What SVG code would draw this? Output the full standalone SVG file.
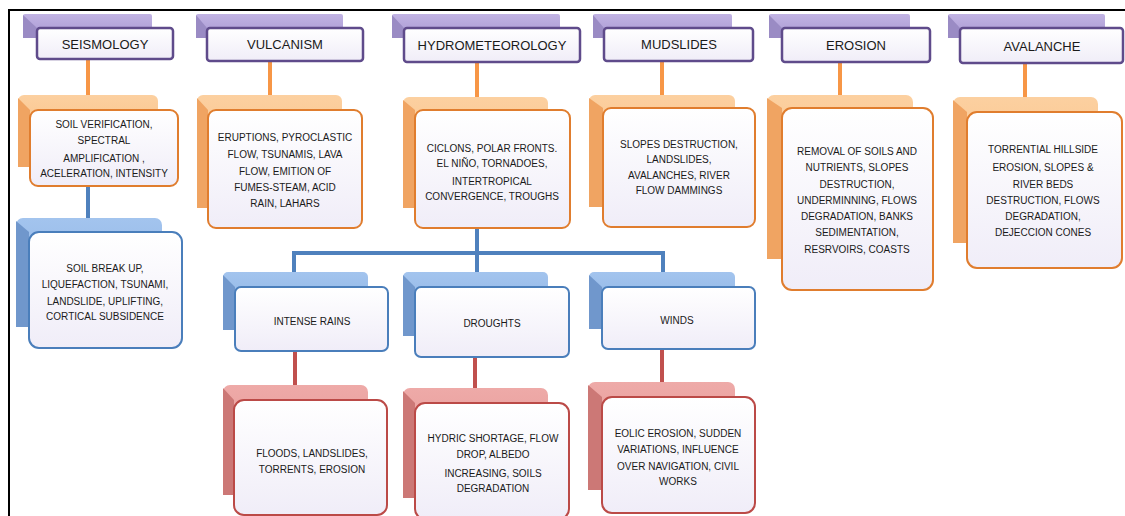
<svg xmlns="http://www.w3.org/2000/svg" width="1125" height="516" viewBox="0 0 1125 516">
<defs>
<linearGradient id="gFront" x1="0" y1="0" x2="0" y2="1"><stop offset="0" stop-color="#ffffff"/><stop offset="1" stop-color="#f0edf8"/></linearGradient>
<linearGradient id="gPur" x1="0" y1="0" x2="0" y2="1"><stop offset="0" stop-color="#c1b3e3"/><stop offset="1" stop-color="#a898d2"/></linearGradient>
<linearGradient id="gOra" x1="0" y1="0" x2="0" y2="1"><stop offset="0" stop-color="#fcd0a0"/><stop offset="1" stop-color="#f8b878"/></linearGradient>
<linearGradient id="gBlu" x1="0" y1="0" x2="0" y2="1"><stop offset="0" stop-color="#a3c4ee"/><stop offset="1" stop-color="#86aee0"/></linearGradient>
<linearGradient id="gRed" x1="0" y1="0" x2="0" y2="1"><stop offset="0" stop-color="#eeaaa8"/><stop offset="1" stop-color="#e08e8c"/></linearGradient>
</defs>
<style>
.frame{stroke:#000;stroke-width:2;fill:none}
.pb{fill:url(#gPur)}.ps{fill:#9a8bc4}
.pf{fill:url(#gFront);stroke:#5f4b8b;stroke-width:2.5}
.ob{fill:url(#gOra)}.os{fill:#f0a462}
.of{fill:url(#gFront);stroke:#e07d2e;stroke-width:2}
.bb{fill:url(#gBlu)}.bs{fill:#7097cc}
.bf{fill:url(#gFront);stroke:#4a7ebb;stroke-width:2}
.rb{fill:url(#gRed)}.rs{fill:#cc7876}
.rf{fill:url(#gFront);stroke:#bb4a47;stroke-width:2}
.co{stroke:#f79646;stroke-width:4;fill:none}
.cb{stroke:#4f81bd;stroke-width:4;fill:none}
.cr{stroke:#c0504d;stroke-width:4;fill:none}
.h{font-family:"Liberation Sans",Arial,sans-serif;font-size:13px;fill:#1a1a1a;text-anchor:middle}
.t{font-family:"Liberation Sans",Arial,sans-serif;font-size:10px;fill:#1a1a1a;text-anchor:middle}
</style>
<rect x="0" y="0" width="1125" height="516" fill="#fff"/>
<path class="frame" d="M9 516 V10 H1125"/>

<g id="connectors">
<path class="co" d="M88 59 V95 M270 61 V95 M477 62 V97 M662 61 V95 M840 62 V95 M1025 64 V97"/>
<path class="cb" d="M88 186 V218 M477 228 V253 M294 272 V253 H663 V272 M477 253 V272"/>
<path class="cr" d="M295 351 V385 M475 357 V388 M662 349 V382"/>
</g>

<g id="h-seismology">
<rect class="pb" x="23" y="14" width="129" height="24" rx="2"/>
<polygon class="ps" points="23,15 37,28 37,38 23,38"/>
<rect class="pf" x="37" y="28" width="136" height="31" rx="3"/>
<text class="h" x="105" y="49">SEISMOLOGY</text>
</g>
<g id="h-vulcanism">
<rect class="pb" x="196" y="14" width="147" height="24" rx="2"/>
<polygon class="ps" points="196,15 207,28 207,38 196,38"/>
<rect class="pf" x="207" y="28" width="156" height="33" rx="3"/>
<text class="h" x="285" y="49">VULCANISM</text>
</g>
<g id="h-hydro">
<rect class="pb" x="392" y="14" width="168" height="24" rx="2"/>
<polygon class="ps" points="392,15 404,28 404,38 392,38"/>
<rect class="pf" x="404" y="28" width="176" height="34" rx="3"/>
<text class="h" x="492" y="50">HYDROMETEOROLOGY</text>
</g>
<g id="h-mudslides">
<rect class="pb" x="593" y="14" width="139" height="24" rx="2"/>
<polygon class="ps" points="593,15 604,28 604,38 593,38"/>
<rect class="pf" x="604" y="28" width="149" height="33" rx="3"/>
<text class="h" x="679" y="49">MUDSLIDES</text>
</g>
<g id="h-erosion">
<rect class="pb" x="769" y="14" width="141" height="24" rx="2"/>
<polygon class="ps" points="769,15 782,28 782,38 769,38"/>
<rect class="pf" x="782" y="28" width="148" height="34" rx="3"/>
<text class="h" x="856" y="50">EROSION</text>
</g>
<g id="h-avalanche">
<rect class="pb" x="948" y="14" width="157" height="24" rx="2"/>
<polygon class="ps" points="948,15 960,28 960,38 948,38"/>
<rect class="pf" x="960" y="28" width="163" height="35" rx="3"/>
<text class="h" x="1042" y="51">AVALANCHE</text>
</g>

<g id="o-seismology">
<rect class="ob" x="18" y="95" width="140" height="72" rx="6"/>
<polygon class="os" points="18,98 30,110 30,167 18,167"/>
<rect class="of" x="30" y="110" width="148" height="76" rx="8"/>
<text class="t" x="104"><tspan x="104" y="128">SOIL VERIFICATION,</tspan><tspan x="104" y="144">SPECTRAL</tspan><tspan x="104" y="162">AMPLIFICATION ,</tspan><tspan x="104" y="177">ACELERATION, INTENSITY</tspan></text>
</g>
<g id="o-vulcanism">
<rect class="ob" x="197" y="95" width="145" height="113" rx="6"/>
<polygon class="os" points="197,98 208,110 208,208 197,208"/>
<rect class="of" x="208" y="110" width="154" height="118" rx="8"/>
<text class="t"><tspan x="285" y="141">ERUPTIONS, PYROCLASTIC</tspan><tspan x="285" y="158">FLOW, TSUNAMIS, LAVA</tspan><tspan x="285" y="175">FLOW, EMITION OF</tspan><tspan x="285" y="191">FUMES-STEAM, ACID</tspan><tspan x="285" y="207">RAIN, LAHARS</tspan></text>
</g>
<g id="o-hydro">
<rect class="ob" x="403" y="97" width="145" height="111" rx="6"/>
<polygon class="os" points="403,100 415,110 415,208 403,208"/>
<rect class="of" x="415" y="110" width="155" height="118" rx="8"/>
<text class="t"><tspan x="492" y="152">CICLONS, POLAR FRONTS.</tspan><tspan x="492" y="167">EL NIÑO, TORNADOES,</tspan><tspan x="492" y="185">INTERTROPICAL</tspan><tspan x="492" y="200">CONVERGENCE,  TROUGHS</tspan></text>
</g>
<g id="o-mudslides">
<rect class="ob" x="589" y="95" width="146" height="112" rx="6"/>
<polygon class="os" points="589,98 603,108 603,207 589,207"/>
<rect class="of" x="603" y="108" width="152" height="119" rx="8"/>
<text class="t"><tspan x="679" y="148">SLOPES DESTRUCTION,</tspan><tspan x="679" y="163">LANDSLIDES,</tspan><tspan x="679" y="179">AVALANCHES,  RIVER</tspan><tspan x="679" y="194">FLOW DAMMINGS</tspan></text>
</g>
<g id="o-erosion">
<rect class="ob" x="767" y="95" width="146" height="164" rx="7"/>
<polygon class="os" points="767,98 782,108 782,259 767,259"/>
<rect class="of" x="782" y="108" width="151" height="182" rx="10"/>
<text class="t"><tspan x="857" y="155">REMOVAL OF SOILS AND</tspan><tspan x="857" y="171">NUTRIENTS, SLOPES</tspan><tspan x="857" y="188">DESTRUCTION,</tspan><tspan x="857" y="204">UNDERMINNING,  FLOWS</tspan><tspan x="857" y="220">DEGRADATION, BANKS</tspan><tspan x="857" y="236">SEDIMENTATION,</tspan><tspan x="857" y="253">RESRVOIRS, COASTS</tspan></text>
</g>
<g id="o-avalanche">
<rect class="ob" x="953" y="97" width="145" height="146" rx="7"/>
<polygon class="os" points="953,100 967,112 967,243 953,243"/>
<rect class="of" x="967" y="112" width="155" height="156" rx="10"/>
<text class="t"><tspan x="1043" y="153">TORRENTIAL  HILLSIDE</tspan><tspan x="1043" y="171">EROSION, SLOPES &amp;</tspan><tspan x="1043" y="188">RIVER BEDS</tspan><tspan x="1043" y="204">DESTRUCTION,  FLOWS</tspan><tspan x="1043" y="220">DEGRADATION,</tspan><tspan x="1043" y="236">DEJECCION CONES</tspan></text>
</g>

<g id="b-seismology">
<rect class="bb" x="16" y="218" width="146" height="109" rx="7"/>
<polygon class="bs" points="16,221 29,232 29,327 16,327"/>
<rect class="bf" x="29" y="232" width="153" height="116" rx="10"/>
<text class="t"><tspan x="105" y="272">SOIL BREAK UP,</tspan><tspan x="105" y="288">LIQUEFACTION, TSUNAMI,</tspan><tspan x="105" y="305">LANDSLIDE,  UPLIFTING,</tspan><tspan x="105" y="320">CORTICAL SUBSIDENCE</tspan></text>
</g>
<g id="b-rains">
<rect class="bb" x="223" y="272" width="145" height="58" rx="5"/>
<polygon class="bs" points="223,275 235,287 235,330 223,330"/>
<rect class="bf" x="235" y="287" width="153" height="64" rx="6"/>
<text class="t" x="312" y="325">INTENSE RAINS</text>
</g>
<g id="b-droughts">
<rect class="bb" x="403" y="272" width="145" height="64" rx="5"/>
<polygon class="bs" points="403,275 415,287 415,336 403,336"/>
<rect class="bf" x="415" y="287" width="154" height="70" rx="6"/>
<text class="t" x="492" y="327">DROUGHTS</text>
</g>
<g id="b-winds">
<rect class="bb" x="589" y="272" width="146" height="57" rx="5"/>
<polygon class="bs" points="589,275 602,287 602,329 589,329"/>
<rect class="bf" x="602" y="287" width="153" height="62" rx="6"/>
<text class="t" x="677" y="324">WINDS</text>
</g>

<g id="r-floods">
<rect class="rb" x="223" y="385" width="145" height="110" rx="7"/>
<polygon class="rs" points="223,388 234,400 234,495 223,495"/>
<rect class="rf" x="234" y="400" width="153" height="115" rx="10"/>
<text class="t"><tspan x="312" y="457">FLOODS, LANDSLIDES,</tspan><tspan x="312" y="473">TORRENTS,  EROSION</tspan></text>
</g>
<g id="r-droughts">
<rect class="rb" x="403" y="388" width="145" height="110" rx="7"/>
<polygon class="rs" points="403,391 415,403 415,498 403,498"/>
<rect class="rf" x="415" y="403" width="154" height="116" rx="10"/>
<text class="t"><tspan x="493" y="442">HYDRIC SHORTAGE,  FLOW</tspan><tspan x="493" y="458">DROP, ALBEDO</tspan><tspan x="493" y="477">INCREASING, SOILS</tspan><tspan x="493" y="492">DEGRADATION</tspan></text>
</g>
<g id="r-winds">
<rect class="rb" x="588" y="382" width="147" height="108" rx="7"/>
<polygon class="rs" points="588,385 602,397 602,490 588,490"/>
<rect class="rf" x="602" y="397" width="153" height="116" rx="10"/>
<text class="t"><tspan x="678" y="437">EOLIC EROSION, SUDDEN</tspan><tspan x="678" y="453">VARIATIONS, INFLUENCE</tspan><tspan x="678" y="470">OVER NAVIGATION, CIVIL</tspan><tspan x="678" y="485">WORKS</tspan></text>
</g>
</svg>
